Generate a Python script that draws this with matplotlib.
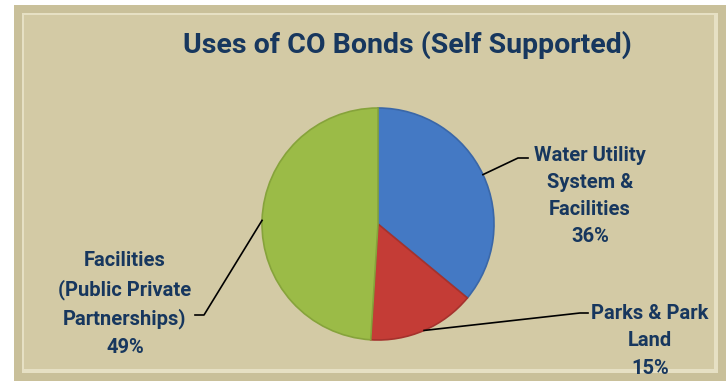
"""Pie chart: uses of CO bonds (self supported)."""
import numpy as np
import matplotlib
matplotlib.use("Agg")
import matplotlib.pyplot as plt
from matplotlib.patches import Rectangle

labels = ["Water Utility\nSystem &\nFacilities", "Parks & Park\nLand",
          "Facilities\n(Public Private\nPartnerships)"]
shares = [36, 15, 49]
colors = ["#4479c4", "#c43c36", "#9bbb47"]
edges = ["#3a67a8", "#a5322d", "#86a33b"]

TEXT = "#17375e"
FONT = "Roboto"
W, H = 726, 381


def main():
    fig = plt.figure(figsize=(W / 100, H / 100), dpi=100, facecolor="white")
    ax = fig.add_axes([0, 0, 1, 1])
    ax.set_xlim(0, W)
    ax.set_ylim(0, H)
    ax.set_aspect("equal")
    ax.axis("off")

    # beveled beige panel
    ax.add_patch(Rectangle((14, 0), W - 14, H - 5, facecolor="#c9c09a",
                           edgecolor="none", zorder=0))
    ax.add_patch(Rectangle((22, 8), W - 30, H - 21, facecolor="#e6e0c4",
                           edgecolor="none", zorder=0))
    ax.add_patch(Rectangle((24, 12), W - 36, H - 27, facecolor="#d3caa5",
                           edgecolor="none", zorder=0))

    cx, cy, r = 378, H - 224, 116
    wedges, _ = ax.pie(shares, colors=colors, startangle=90, counterclock=False,
                       center=(cx, cy), radius=r,
                       wedgeprops=dict(linewidth=1.2, zorder=2))
    for w, ec in zip(wedges, edges):
        w.set_edgecolor(ec)
    ax.set_xlim(0, W)
    ax.set_ylim(0, H)

    ax.text(407, H - 45, "Uses of CO Bonds (Self Supported)", ha="center",
            va="center", fontsize=20.5, fontweight="bold", color=TEXT,
            family=FONT)

    # label placement: elbow point, line end, text centre
    layout = [
        ((518, 158), (528, 158), (590, 196)),
        ((580, 313), (588, 313), (650, 341)),
        ((204, 315), (195, 315), (125, 304)),
    ]
    for w, lab, s, (elbow, end, txt) in zip(wedges, labels, shares, layout):
        mid = np.deg2rad((w.theta1 + w.theta2) / 2)
        ax0 = cx + r * np.cos(mid)
        ay0 = cy + r * np.sin(mid)
        ax.plot([ax0, elbow[0], end[0]], [ay0, H - elbow[1], H - end[1]],
                color="black", lw=1.2, zorder=3)
        ax.text(txt[0], H - txt[1], f"{lab}\n{s}%", ha="center", va="center",
                fontsize=14.5, fontweight="bold", color=TEXT, family=FONT,
                linespacing=1.55, zorder=4)

    fig.savefig("out.png", dpi=100, facecolor=fig.get_facecolor())


if __name__ == "__main__":
    main()
